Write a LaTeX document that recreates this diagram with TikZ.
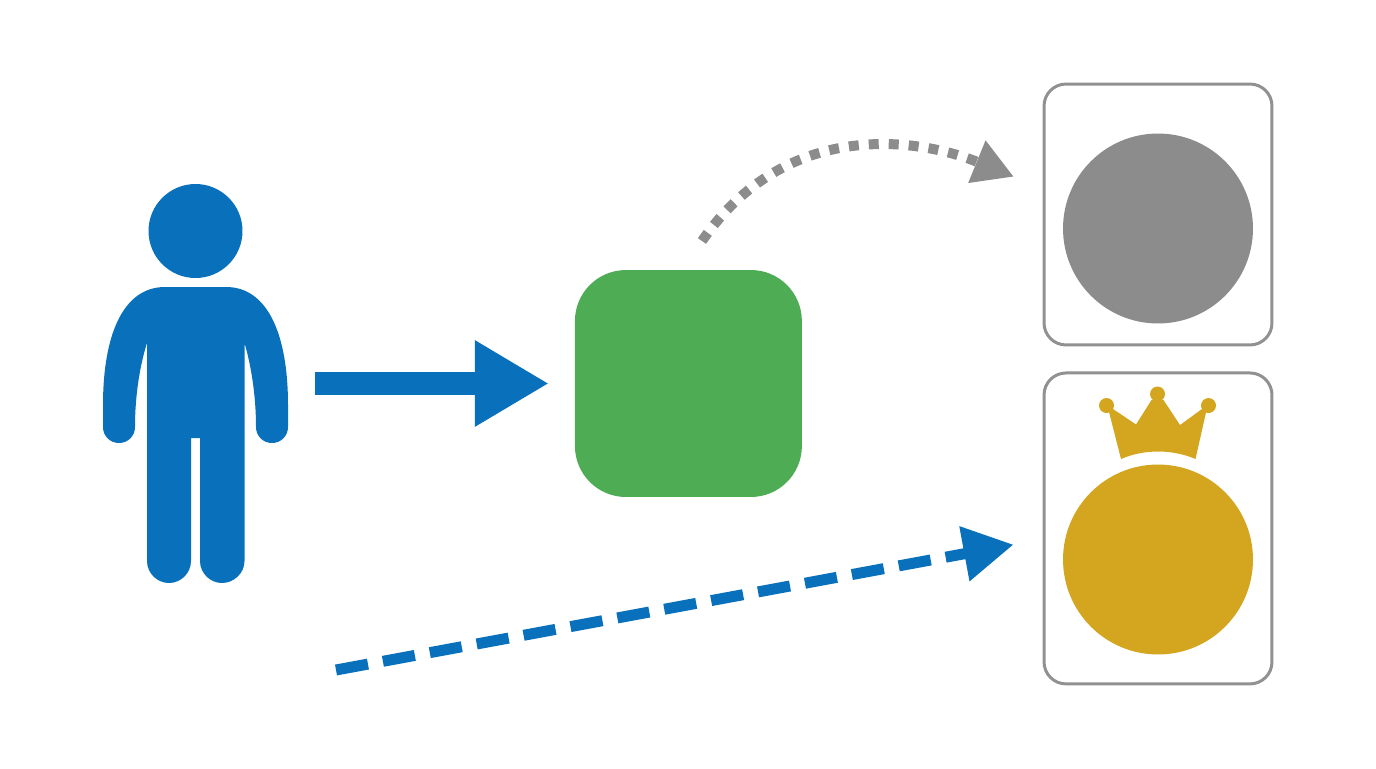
\documentclass[tikz,border=0pt]{standalone}
\usepackage{tikz}
\usetikzlibrary{arrows.meta}
\definecolor{iconblue}{RGB}{9,112,188}
\definecolor{boxgreen}{RGB}{78,173,84}
\definecolor{discgray}{RGB}{140,140,140}
\definecolor{cardgray}{RGB}{145,145,145}
\definecolor{discgold}{RGB}{212,166,32}
\begin{document}
\begin{tikzpicture}[x=0.02cm,y=-0.02cm,
    card/.style={rectangle,rounded corners=0.44cm,draw=cardgray,line width=0.06cm,
        minimum width=4.56cm,outer sep=0pt},
    disc/.style={circle,minimum size=3.8cm,inner sep=0pt,outer sep=0pt},
    green box/.style={rectangle,rounded corners=1.02cm,fill=boxgreen,
        minimum size=4.54cm,inner sep=0pt,outer sep=0pt},
    ghost/.style={rectangle,inner sep=0pt,outer sep=0pt}]
        \useasboundingbox (0,0) rectangle (1376,768);

        \node[ghost,minimum width=3.7cm,minimum height=7.98cm] (person) at (195.5,383.5) {};
        \node[disc,minimum size=1.88cm,fill=iconblue] (head) at (195.5,231) {};
        \node[green box] (box) [right of=person,node distance=9.86cm] {};
        \node[card,minimum height=5.22cm] (card1) at (1158,214.5) {};
        \node[card,minimum height=6.22cm] (card2) [below of=card1,node distance=6.28cm] {};
        \node[disc,fill=discgray] (disc1) at (1158,228.5) {};
        \node[disc,fill=discgold] (disc2) at (1158,559.5) {};
        \coordinate (grayout) at (702,241);
        \coordinate (grayin) at (1044,189);
        \coordinate (blueout) at (336,670);
        \coordinate (bluein) at (1044,539);

        % body
        \fill[iconblue] (147,343) -- (147,561)
            .. controls (147,573) and (157,583) .. (169,583)
            .. controls (181,583) and (191,573) .. (191,561)
            -- (191,438) -- (200,438) -- (200,561)
            .. controls (200,573) and (210,583) .. (222,583)
            .. controls (234,583) and (244.5,573) .. (244.5,561)
            -- (244.5,343)
            .. controls (251,365) and (256,395) .. (256,427)
            .. controls (256,436) and (263,443) .. (272,443)
            .. controls (281,443) and (288,436) .. (288,427)
            -- (288,405)
            .. controls (288,335) and (268,287) .. (226,287)
            -- (165,287)
            .. controls (123,287) and (103,335) .. (103,405)
            -- (103,427)
            .. controls (103,436) and (110,443) .. (119,443)
            .. controls (128,443) and (135,436) .. (135,427)
            .. controls (135,395) and (140,365) .. (147,343) -- cycle;

        % crown
        \fill[discgold] (1108,408) -- (1113,409) -- (1136,424.5) -- (1151.5,400) -- (1163.5,400)
            -- (1180,425) -- (1202,409) -- (1207,408) -- (1195.5,459)
            .. controls (1172,449) and (1144,449) .. (1121,459) -- cycle;
        \foreach \cx/\cy in {1106.5/405.5,1157.5/394,1208.5/405.5}
            \fill[discgold] (\cx,\cy) circle [radius=7.5];

        \draw[iconblue,line width=0.46cm,shorten <=0.54cm,shorten >=0.52cm,
            -{Triangle[length=1.48cm,width=1.62cm]}] (person.east) -- (box.west);
        \draw[discgray,line width=0.2cm,dash pattern=on 0.2cm off 0.2cm,shorten >=0.65cm,
            -{Triangle[length=0.8cm,width=0.86cm]}] (grayout)
            .. controls (785,120) and (915,136.5) .. (grayin);
        \draw[iconblue,line width=0.22cm,dash pattern=on 0.65cm off 0.304cm,shorten >=0.62cm,
            -{Triangle[length=1cm,width=1.06cm]}] (blueout) -- (bluein);
    \end{tikzpicture}
\end{document}
